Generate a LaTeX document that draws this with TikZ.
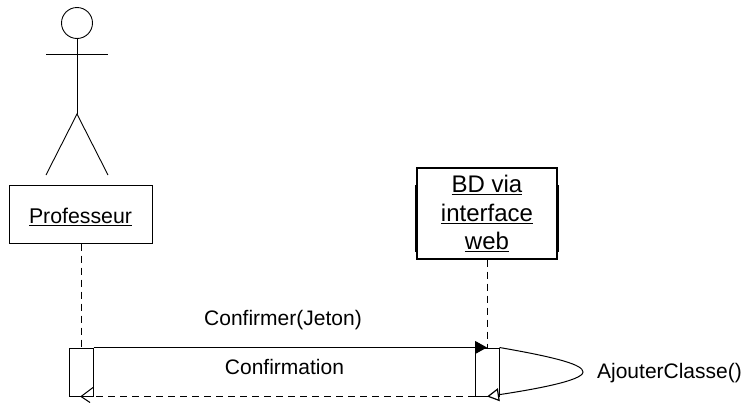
\documentclass[tikz,border=0pt]{standalone}
\usepackage{fontspec}
\setmainfont{Liberation Sans}
\usetikzlibrary{arrows.meta,calc}
\tikzset{
 objbox/.style={draw,fill=white,line width=1pt,inner sep=0pt,align=center,font=\fontsize{21.3}{28.5}\selectfont},
 bdbox/.style={objbox,line width=1.3pt,font=\fontsize{24}{28.5}\selectfont},
 activebox/.style={draw,fill=white,line width=1pt,minimum width=24pt,minimum height=48pt,inner sep=0pt},
 lbl/.style={font=\fontsize{21}{24}\selectfont,inner sep=0pt,anchor=base},
 lifeline/.style={line width=0.8pt,dash pattern=on 7pt off 5pt},
 stick/.style={line width=0.9pt}
}
\begin{document}
\begin{tikzpicture}[x=1pt,y=-1pt]
\useasboundingbox (0,0) rectangle (745,402);
% actor
\node[draw,circle,stick,minimum size=31pt,inner sep=0pt] (head) at (77,23) {};
\coordinate (hip) at (77,114);
\coordinate (armL) at (46,54);
\coordinate (armR) at (108,54);
\coordinate (legL) at (46,175);
\coordinate (legR) at (108,175);
\draw[stick] (head.south) -- (hip);
\draw[stick] (armL) -- (armR);
\draw[stick] (legL) -- (hip) -- (legR);
% objects
\node[objbox,minimum width=143pt,minimum height=58pt] (prof) at (80.5,214) {\raisebox{-3pt}[\height][\depth]{\underline{Professeur}}};
\draw[line width=1.4pt] (415.5,185) -- (415.5,252) (558,185) -- (558,252);
\node[bdbox,minimum width=140pt,minimum height=91pt] (bd) at (487,213.5) {\underline{BD via}\\\underline{interface}\\\underline{web}};
% activations
\node[activebox] (a1) at (81,372) {};
\node[activebox] (a2) at (487,372) {};
\draw[lifeline] (prof.south -| a1.north) -- (a1.north);
\draw[lifeline] (bd.south) -- (a2.north);
% messages
\draw[line width=1.1pt,-{Triangle[length=12pt,width=13pt]}] (a1.north east) -- (a2.north);
\draw[lifeline] (a2.south west) -- (a1.south east);
\path (a1.south) ++(12,-9) coordinate (t1) ++(-12,9) coordinate (t0) ++(9,6) coordinate (t2);
\draw[line width=1pt] (t1) -- (t0) -- (t2);
\draw[line width=1pt,-{Triangle[open,length=12pt,width=13pt,fill=white,line width=1.2pt]}] (a2.north east) .. controls (560,358) and (583,365) .. (583,372) .. controls (583,381) and (530,390) .. (a2.south);
% labels
\node[lbl] (m1) at (283,325) {Confirmer(Jeton)};
\node[lbl] (m2) at (284.5,374) {Confirmation};
\node[lbl] (m3) at (669.5,378) {AjouterClasse()};
\end{tikzpicture}
\end{document}
